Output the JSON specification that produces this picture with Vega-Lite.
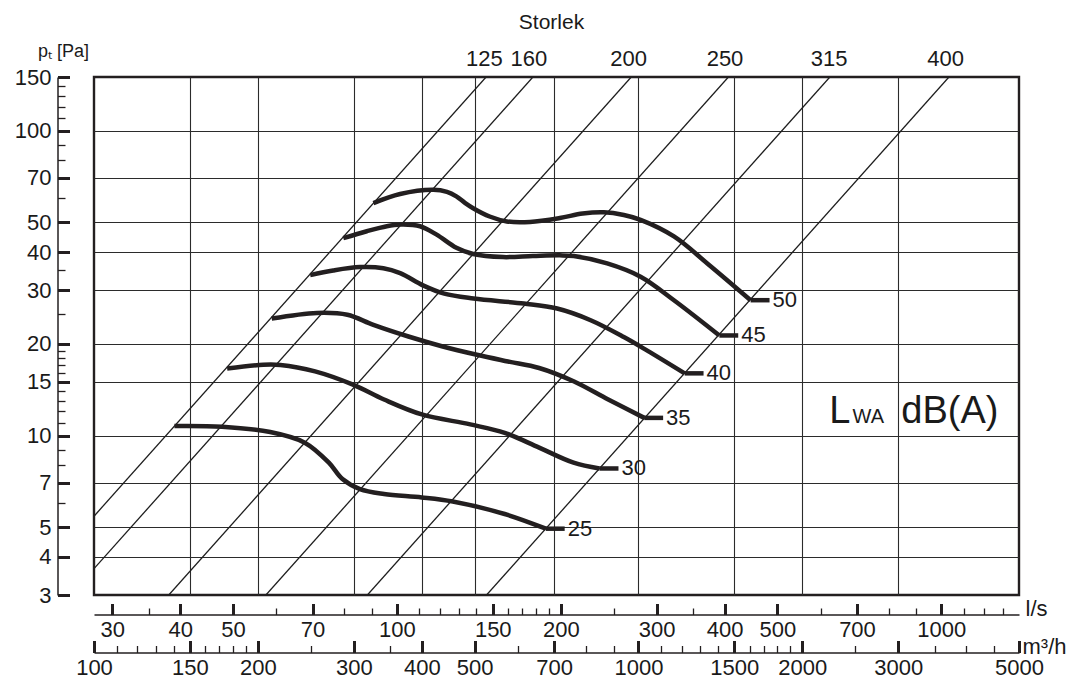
{
  "$schema": "https://vega.github.io/schema/vega-lite/v6.json",
  "width": 925,
  "height": 518,
  "autosize": {"type": "none"},
  "padding": {"left": 94, "top": 77, "right": 61, "bottom": 85},
  "background": "white",
  "config": {
    "view": {"stroke": "#231f20", "strokeWidth": 2.4},
    "axis": {
      "labelFont": "Liberation Sans",
      "labelFontSize": 22,
      "labelColor": "#1a1a1a",
      "tickColor": "#231f20",
      "domainColor": "#231f20",
      "labelFlush": false,
      "labelOverlap": false,
      "grid": false,
      "titleFont": "Liberation Sans",
      "titleFontWeight": "normal",
      "titleColor": "#1a1a1a",
      "titleFontSize": 22
    },
    "text": {"font": "Liberation Sans", "color": "#1a1a1a"}
  },
  "datasets": {
    "storlek_lines": [
      {"size": "125", "q": 100, "p": 5.44}, {"size": "125", "q": 525, "p": 150},
      {"size": "160", "q": 100, "p": 3.66}, {"size": "160", "q": 640, "p": 150},
      {"size": "200", "q": 137.2, "p": 3}, {"size": "200", "q": 970, "p": 150},
      {"size": "250", "q": 206.9, "p": 3}, {"size": "250", "q": 1463, "p": 150},
      {"size": "315", "q": 317.8, "p": 3}, {"size": "315", "q": 2247, "p": 150},
      {"size": "400", "q": 526, "p": 3}, {"size": "400", "q": 3718, "p": 150}
    ],
    "curves": [
      {"level": "25", "q": 140.5, "p": 10.75}, {"level": "25", "q": 171.8, "p": 10.69}, {"level": "25", "q": 210.7, "p": 10.27},
      {"level": "25", "q": 243.8, "p": 9.48}, {"level": "25", "q": 270, "p": 8.15}, {"level": "25", "q": 286, "p": 7.2},
      {"level": "25", "q": 308, "p": 6.67}, {"level": "25", "q": 341, "p": 6.43}, {"level": "25", "q": 400, "p": 6.27},
      {"level": "25", "q": 456, "p": 6.08}, {"level": "25", "q": 568, "p": 5.53}, {"level": "25", "q": 676, "p": 4.95},
      {"level": "30", "q": 175.6, "p": 16.6}, {"level": "30", "q": 204.6, "p": 17.08}, {"level": "30", "q": 220, "p": 17.05},
      {"level": "30", "q": 254.7, "p": 16.24}, {"level": "30", "q": 299, "p": 14.69}, {"level": "30", "q": 341, "p": 13.13},
      {"level": "30", "q": 400, "p": 11.73}, {"level": "30", "q": 491, "p": 10.88}, {"level": "30", "q": 568, "p": 10.21},
      {"level": "30", "q": 657, "p": 9.13}, {"level": "30", "q": 760, "p": 8.15}, {"level": "30", "q": 848, "p": 7.8},
      {"level": "35", "q": 212, "p": 24.2}, {"level": "35", "q": 256.6, "p": 25.25}, {"level": "35", "q": 292, "p": 24.9},
      {"level": "35", "q": 326, "p": 23.07}, {"level": "35", "q": 378, "p": 21.13}, {"level": "35", "q": 437, "p": 19.6},
      {"level": "35", "q": 505, "p": 18.41}, {"level": "35", "q": 576, "p": 17.5}, {"level": "35", "q": 657, "p": 16.66},
      {"level": "35", "q": 760, "p": 15.07}, {"level": "35", "q": 880, "p": 13.13}, {"level": "35", "q": 1025, "p": 11.43},
      {"level": "40", "q": 249.5, "p": 33.6}, {"level": "40", "q": 275, "p": 34.8}, {"level": "40", "q": 308, "p": 35.7},
      {"level": "40", "q": 340, "p": 35.4}, {"level": "40", "q": 365, "p": 34.1}, {"level": "40", "q": 402, "p": 31.1},
      {"level": "40", "q": 440, "p": 29.2}, {"level": "40", "q": 498, "p": 28.15}, {"level": "40", "q": 616, "p": 27.1},
      {"level": "40", "q": 709, "p": 26.1}, {"level": "40", "q": 817, "p": 23.9}, {"level": "40", "q": 940, "p": 21.05},
      {"level": "40", "q": 1038, "p": 19.0}, {"level": "40", "q": 1216, "p": 16.0},
      {"level": "45", "q": 287, "p": 44.4}, {"level": "45", "q": 317, "p": 46.8}, {"level": "45", "q": 345, "p": 48.6},
      {"level": "45", "q": 365, "p": 49.2}, {"level": "45", "q": 397, "p": 48.6}, {"level": "45", "q": 426, "p": 45.6},
      {"level": "45", "q": 463, "p": 41.3}, {"level": "45", "q": 497, "p": 39.4}, {"level": "45", "q": 564, "p": 38.5},
      {"level": "45", "q": 640, "p": 38.8}, {"level": "45", "q": 717, "p": 39.0}, {"level": "45", "q": 761, "p": 38.8},
      {"level": "45", "q": 876, "p": 36.7}, {"level": "45", "q": 1009, "p": 33.2}, {"level": "45", "q": 1162, "p": 27.8},
      {"level": "45", "q": 1408, "p": 21.3},
      {"level": "50", "q": 326, "p": 57.9}, {"level": "50", "q": 365, "p": 62.0}, {"level": "50", "q": 420, "p": 64.0},
      {"level": "50", "q": 445, "p": 63.0}, {"level": "50", "q": 463, "p": 60.9}, {"level": "50", "q": 480, "p": 58.0},
      {"level": "50", "q": 497, "p": 55.7}, {"level": "50", "q": 533, "p": 52.3}, {"level": "50", "q": 573, "p": 50.4},
      {"level": "50", "q": 632, "p": 50.2}, {"level": "50", "q": 717, "p": 51.7}, {"level": "50", "q": 790, "p": 53.5},
      {"level": "50", "q": 864, "p": 54.0}, {"level": "50", "q": 940, "p": 52.9}, {"level": "50", "q": 1009, "p": 51.0},
      {"level": "50", "q": 1162, "p": 45.0}, {"level": "50", "q": 1338, "p": 36.7}, {"level": "50", "q": 1607, "p": 27.8}
    ],
    "ends": [
      {"level": "25", "q_end": 676, "q_tick": 732, "p": 4.95},
      {"level": "30", "q_end": 848, "q_tick": 919, "p": 7.8},
      {"level": "35", "q_end": 1025, "q_tick": 1110, "p": 11.43},
      {"level": "40", "q_end": 1216, "q_tick": 1317, "p": 16.0},
      {"level": "45", "q_end": 1408, "q_tick": 1525, "p": 21.3},
      {"level": "50", "q_end": 1607, "q_tick": 1741, "p": 27.8}
    ],
    "lwa_big": [
      {"t": "L", "q": 2240, "p": 11.0},
      {"t": "dB(A)", "q": 3039, "p": 11.0}
    ],
    "lwa_small": [
      {"t": "WA", "q": 2473, "p": 11.0}
    ]
  },
  "layer": [
    {
      "data": {"name": "storlek_lines"},
      "mark": {"type": "line", "color": "#1e1e1e", "strokeWidth": 1.3, "clip": true},
      "encoding": {
        "x": {"field": "q", "type": "quantitative",
          "scale": {"type": "log", "domain": [100, 5000], "nice": false},
          "axis": {"orient": "bottom", "values": [150, 200, 300, 400, 500, 700, 1000, 1500, 2000, 3000],
            "grid": true, "gridColor": "#2b2b2b", "gridWidth": 1.1, "gridOpacity": 1,
            "ticks": false, "labels": false, "domain": false, "title": null}},
        "y": {"field": "p", "type": "quantitative",
          "scale": {"type": "log", "domain": [3, 150], "nice": false},
          "axis": {"orient": "left", "values": [4, 5, 7, 10, 15, 20, 30, 40, 50, 70, 100],
            "grid": true, "gridColor": "#2b2b2b", "gridWidth": 1.1, "gridOpacity": 1,
            "ticks": false, "labels": false, "domain": false, "title": null}},
        "detail": {"field": "size"}
      }
    },
    {
      "data": {"name": "curves"},
      "mark": {"type": "line", "interpolate": "catmull-rom", "color": "#231f20", "strokeWidth": 4.5, "strokeCap": "butt"},
      "encoding": {
        "x": {"field": "q", "type": "quantitative",
          "scale": {"type": "log", "domain": [100, 5000], "nice": false},
          "axis": {"orient": "bottom", "offset": 19.5,
            "values": [108, 144, 180, 252, 360, 540, 720, 1080, 1440, 1800, 2520, 3600],
            "labelExpr": "'' + round(datum.value / 3.6)",
            "tickSize": -11, "tickWidth": 3, "labelPadding": 16, "labelBaseline": "top",
            "domainWidth": 1.5,
            "title": "l/s", "titleX": 931, "titleY": 1, "titleAlign": "left", "titleBaseline": "alphabetic", "titleAngle": 0}},
        "y": {"field": "p", "type": "quantitative",
          "scale": {"type": "log", "domain": [3, 150], "nice": false},
          "axis": {"orient": "left", "offset": 36.5,
            "values": [3, 4, 5, 7, 10, 15, 20, 30, 40, 50, 70, 100, 150],
            "format": "d",
            "tickSize": -12, "tickWidth": 3, "labelPadding": 18.5, "domainWidth": 1.5,
            "title": "pₜ [Pa]", "titleFontSize": 18, "titleAngle": 0, "titleAlign": "left",
            "titleBaseline": "alphabetic", "titleX": -20, "titleY": -21}},
        "detail": {"field": "level"}
      }
    },
    {
      "data": {"name": "ends"},
      "mark": {"type": "rule", "color": "#231f20", "strokeWidth": 4.5, "strokeCap": "butt"},
      "encoding": {
        "x": {"field": "q_end", "type": "quantitative",
          "scale": {"type": "log", "domain": [100, 5000], "nice": false},
          "axis": {"orient": "bottom", "offset": 19.5,
            "values": [126, 216, 288, 324, 396, 432, 468, 504, 576, 612, 648, 684, 900, 1260, 2160, 2880, 3240, 3960, 4320, 4680],
            "tickSize": -6.5, "tickWidth": 1.3, "labels": false, "domain": false, "title": null}},
        "x2": {"field": "q_tick"},
        "y": {"field": "p", "type": "quantitative",
          "scale": {"type": "log", "domain": [3, 150], "nice": false},
          "axis": {"orient": "left", "offset": 36.5,
            "values": [6, 8, 9, 11, 12, 13, 14, 16, 17, 18, 19, 25, 35, 60, 80, 90, 110, 120, 130, 140],
            "tickSize": -7.5, "tickWidth": 1.3, "labels": false, "domain": false, "title": null}}
      }
    },
    {
      "data": {"name": "ends"},
      "mark": {"type": "text", "align": "left", "baseline": "middle", "dx": 3, "fontSize": 22},
      "encoding": {
        "x": {"field": "q_tick", "type": "quantitative",
          "scale": {"type": "log", "domain": [100, 5000], "nice": false},
          "axis": {"orient": "bottom", "offset": 57.5,
            "values": [100, 150, 200, 300, 400, 500, 700, 1000, 1500, 2000, 3000, 5000],
            "format": "d",
            "tickSize": -12, "tickWidth": 3, "labelPadding": 16.5, "labelBaseline": "top",
            "domainWidth": 1.5,
            "title": "m³/h", "titleX": 928, "titleY": 1, "titleAlign": "left", "titleBaseline": "alphabetic", "titleAngle": 0}},
        "y": {"field": "p", "type": "quantitative",
          "scale": {"type": "log", "domain": [3, 150], "nice": false}, "axis": null},
        "text": {"field": "level"}
      }
    },
    {
      "data": {"name": "lwa_big"},
      "mark": {"type": "text", "align": "left", "baseline": "alphabetic", "fontSize": 38},
      "encoding": {
        "x": {"field": "q", "type": "quantitative",
          "scale": {"type": "log", "domain": [100, 5000], "nice": false},
          "axis": {"orient": "bottom", "offset": 57.5,
            "values": [110, 120, 130, 140, 160, 170, 180, 190, 250, 350, 600, 800, 900, 1100, 1200, 1300, 1400, 1600, 1700, 1800, 1900, 2500, 3500, 4000, 4500],
            "tickSize": -7, "tickWidth": 1.3, "labels": false, "domain": false, "title": null}},
        "y": {"field": "p", "type": "quantitative",
          "scale": {"type": "log", "domain": [3, 150], "nice": false}, "axis": null},
        "text": {"field": "t"}
      }
    },
    {
      "data": {"name": "lwa_small"},
      "mark": {"type": "text", "align": "left", "baseline": "alphabetic", "fontSize": 20},
      "encoding": {
        "x": {"field": "q", "type": "quantitative",
          "scale": {"type": "log", "domain": [100, 5000], "nice": false},
          "axis": {"orient": "top", "values": [520, 628, 957, 1439, 2236, 3658],
            "labelExpr": "datum.value < 570 ? '125' : datum.value < 800 ? '160' : datum.value < 1200 ? '200' : datum.value < 1800 ? '250' : datum.value < 3000 ? '315' : '400'",
            "ticks": false, "domain": false, "labelPadding": 11.5, "labelBaseline": "alphabetic",
            "title": "Storlek", "titleFontSize": 21, "titleX": 457, "titleY": -48.5,
            "titleAlign": "center", "titleBaseline": "alphabetic", "titleAngle": 0}},
        "y": {"field": "p", "type": "quantitative",
          "scale": {"type": "log", "domain": [3, 150], "nice": false}, "axis": null},
        "text": {"field": "t"}
      }
    }
  ],
  "resolve": {
    "scale": {"x": "shared", "y": "shared"},
    "axis": {"x": "independent", "y": "independent"}
  }
}
